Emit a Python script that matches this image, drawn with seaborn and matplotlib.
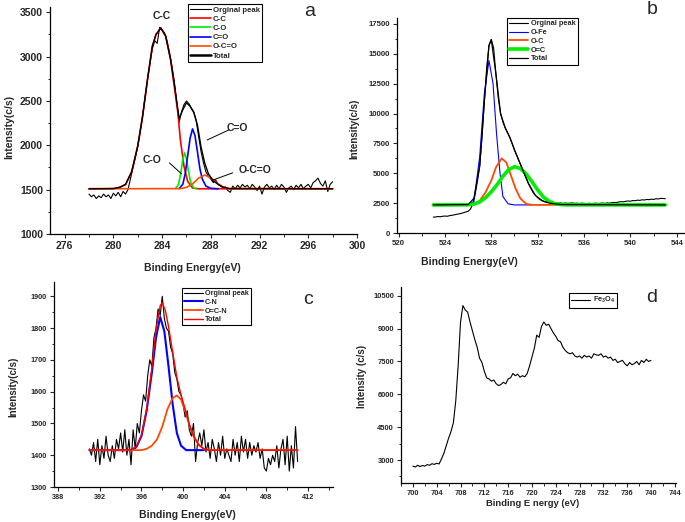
import numpy as np
import matplotlib
matplotlib.use("Agg")
import matplotlib.pyplot as plt
from matplotlib.ticker import MultipleLocator
import seaborn as sns

sns.set_style("ticks")
plt.rcParams['font.family'] = ['Liberation Sans', 'DejaVu Sans']
plt.rcParams['mathtext.fontset'] = 'custom'
plt.rcParams['mathtext.rm'] = 'Liberation Sans:bold'
plt.rcParams['mathtext.it'] = 'Liberation Sans:bold'
plt.rcParams['mathtext.bf'] = 'Liberation Sans:bold'

# ---------------- Panel a : C 1s ----------------
a_orig_start, a_orig_end = 278.0, 298.0
a_orig = [1450, 1420, 1440, 1400, 1430, 1410, 1450, 1420, 1440, 1400,
          1460, 1430, 1470, 1420, 1480, 1450, 1500, 1620, 1740, 1860,
          1990, 2150, 2330, 2540, 2740, 2920, 3090, 3180, 3150, 3330,
          3300, 3270, 3180, 3050, 2900, 2720, 2480, 2260, 2380, 2460,
          2500, 2470, 2420, 2380, 2280, 2100, 1930, 1800, 1700, 1650,
          1620, 1580, 1610, 1560, 1540, 1520, 1530, 1490, 1470, 1540,
          1510, 1550, 1520, 1560, 1530, 1550, 1510, 1560, 1530, 1490,
          1540, 1450, 1530, 1560, 1520, 1540, 1500, 1550, 1510, 1560,
          1530, 1470, 1520, 1540, 1500, 1550, 1520, 1560, 1510, 1540,
          1560, 1520, 1580, 1600, 1630, 1570, 1540, 1600, 1480, 1560, 1590]
a_cc_x = [278.0, 280.0, 280.5, 281.0, 281.5, 282.0, 282.4, 282.8, 283.2, 283.5, 283.9,
          284.3, 284.7, 285.0, 285.3, 285.5, 285.8, 286.1, 286.5, 287.0, 298.0]
a_cc_y = [1510, 1512, 1525, 1556, 1700, 1990, 2327, 2740, 3117, 3250, 3323,
          3230, 2966, 2665, 2365, 2064, 1763, 1594, 1519, 1510, 1510]
a_co_x = [285.1, 285.35, 285.55, 285.7, 285.85, 286.0, 286.15, 286.35, 286.6, 286.8]
a_co_y = [1512, 1560, 1700, 1840, 1915, 1850, 1720, 1580, 1520, 1510]
a_cdo_x = [285.4, 285.7, 285.9, 286.1, 286.3, 286.5, 286.7, 286.9, 287.1, 287.3, 287.6, 288.0, 288.6]
a_cdo_y = [1512, 1560, 1680, 1880, 2080, 2185, 2110, 1930, 1740, 1620, 1540, 1515, 1510]
a_oco_x = [278.0, 285.5, 286.0, 286.5, 287.0, 287.5, 288.0, 288.5, 289.0, 289.5, 298.0]
a_oco_y = [1510, 1512, 1525, 1565, 1630, 1665, 1635, 1575, 1530, 1513, 1510]
a_tot_x = [278.0, 280.0, 280.5, 281.0, 281.5, 282.0, 282.4, 282.8, 283.2, 283.5, 283.9,
           284.3, 284.7, 285.0, 285.4, 285.7, 286.0, 286.3, 286.6, 286.9, 287.2, 287.5,
           287.8, 288.2, 288.6, 289.0, 289.5, 298.0]
a_tot_y = [1510, 1512, 1525, 1560, 1700, 1990, 2327, 2740, 3117, 3250, 3323,
           3230, 2966, 2700, 2300, 2400, 2480, 2440, 2370, 2230, 1980, 1800,
           1680, 1600, 1560, 1530, 1512, 1510]

# ---------------- Panel b : O 1s ----------------
b_orig_start, b_orig_end = 523.0, 543.0
b_orig = [1330, 1340, 1380, 1360, 1400, 1420, 1400, 1450, 1480, 1520,
          1560, 1600, 1640, 1700, 1760, 1820, 2000, 2400, 3200, 4300,
          5600, 8000, 11000, 13800, 15700, 16200, 15500, 13300, 11300, 10000,
          9300, 8800, 8400, 8000, 7500, 6950, 6500, 6000, 5550, 5050,
          4600, 4150, 3750, 3400, 3150, 2950, 2800, 2700, 2620, 2580,
          2560, 2540, 2520, 2510, 2500, 2520, 2480, 2510, 2490, 2500,
          2520, 2480, 2500, 2470, 2500, 2480, 2460, 2490, 2470, 2480,
          2500, 2470, 2490, 2510, 2480, 2520, 2500, 2540, 2560, 2550,
          2600, 2620, 2610, 2660, 2680, 2660, 2720, 2700, 2750, 2730,
          2780, 2760, 2810, 2790, 2830, 2810, 2870, 2850, 2900, 2890, 2870]
b_ofe_x = [523.0, 526.0, 526.5, 527.0, 527.4, 527.8, 528.15, 528.45, 528.75, 529.0, 529.45, 530.0, 531.5]
b_ofe_y = [2350, 2360, 2640, 6390, 11660, 14440, 12500, 8330, 5000, 3050, 2440, 2350, 2350]
b_oc_x = [526.0, 526.5, 527.0, 527.5, 528.0, 528.4, 528.9, 529.3, 529.7, 530.1, 530.5, 531.0, 531.5, 534.0]
b_oc_y = [2350, 2400, 2700, 3400, 4400, 5500, 6250, 5900, 4800, 3700, 2900, 2450, 2350, 2350]
b_odc_x = [523.0, 526.0, 526.5, 527.0, 527.5, 528.0, 528.5, 529.0, 529.5, 530.0, 530.5,
           531.0, 531.5, 532.0, 532.5, 533.0, 533.5, 534.0, 534.5, 543.0]
b_odc_y = [2350, 2360, 2420, 2600, 2950, 3450, 4050, 4750, 5300, 5550, 5400,
           4950, 4300, 3600, 3000, 2650, 2450, 2380, 2355, 2350]
b_tot_x = [523.0, 526.0, 526.5, 527.0, 527.4, 527.8, 528.0, 528.4, 528.8, 529.2, 529.6,
           530.0, 530.6, 531.2, 531.8, 532.4, 533.0, 534.0, 543.0]
b_tot_y = [2350, 2380, 2900, 5600, 11000, 15700, 16200, 13300, 10000, 8800, 8000,
           6950, 5550, 4150, 3150, 2700, 2500, 2380, 2350]

# ---------------- Panel c : N 1s ----------------
c_orig_start, c_orig_end = 391.0, 411.0
c_orig = [1420, 1400, 1440, 1380, 1450, 1370, 1430, 1390, 1460, 1400,
          1380, 1430, 1390, 1450, 1420, 1470, 1410, 1480, 1400, 1450,
          1370, 1480, 1420, 1500, 1470, 1540, 1590, 1570, 1650, 1700,
          1680, 1770, 1800, 1860, 1840, 1900, 1830, 1800, 1790, 1740,
          1720, 1660, 1640, 1600, 1590, 1560, 1520, 1540, 1480, 1460,
          1500, 1380, 1440, 1470, 1430, 1480, 1410, 1440, 1390, 1450,
          1420, 1380, 1440, 1400, 1460, 1390, 1420, 1400, 1380, 1450,
          1400, 1440, 1380, 1460, 1410, 1450, 1390, 1440, 1400, 1430,
          1410, 1440, 1390, 1420, 1360, 1350, 1390, 1370, 1400, 1380,
          1430, 1360, 1420, 1450, 1370, 1460, 1350, 1430, 1360, 1490, 1380]
c_cn_x = [391.0, 395.0, 395.5, 396.0, 396.5, 397.0, 397.4, 397.8, 398.2, 398.6, 399.0, 399.4, 399.8, 400.3, 402.0]
c_cn_y = [1416, 1416, 1425, 1460, 1540, 1660, 1770, 1835, 1790, 1680, 1560, 1470, 1430, 1416, 1416]
c_ocn_x = [391.0, 396.0, 396.5, 397.0, 397.5, 398.0, 398.5, 399.0, 399.4, 399.8, 400.2,
           400.6, 401.0, 401.5, 402.0, 402.5, 411.0]
c_ocn_y = [1416, 1416, 1420, 1430, 1450, 1490, 1545, 1580, 1588, 1575, 1540,
           1495, 1460, 1432, 1420, 1416, 1416]
c_tot_x = [391.0, 395.0, 395.5, 396.0, 396.5, 397.0, 397.4, 397.8, 398.0, 398.3, 398.6,
           399.0, 399.4, 399.8, 400.2, 400.6, 401.0, 401.5, 402.0, 402.5, 411.0]
c_tot_y = [1416, 1417, 1426, 1462, 1545, 1675, 1795, 1870, 1880, 1855, 1805,
           1725, 1645, 1590, 1545, 1497, 1461, 1433, 1420, 1416, 1416]

# ---------------- Panel d : Fe 2p ----------------
d_orig_start, d_orig_end = 700.0, 740.0
d_orig = [2720, 2680, 2760, 2700, 2750, 2720, 2790, 2760, 2830, 2800,
          2850, 2820, 3050, 3300, 3650, 4000, 4300, 4700, 5700, 7300,
          9300, 10050, 9850, 9750, 9300, 8900, 8500, 8150, 7650, 7450,
          7050, 6750, 6700, 6600, 6650, 6480, 6400, 6450, 6550, 6480,
          6700, 6750, 6950, 6850, 6920, 6780, 6850, 6800, 6950, 7300,
          7700, 8100, 8700, 8600, 9100, 9300, 9150, 9200, 9000, 8800,
          8650, 8450, 8400, 8150, 8000, 7900, 7850, 7900, 7750, 7700,
          7750, 7650, 7780, 7700, 7750, 7650, 7850, 7800, 7780, 7850,
          7700, 7750, 7650, 7700, 7550, 7600, 7450, 7500, 7550, 7400,
          7300, 7450, 7350, 7400, 7500, 7350, 7550, 7450, 7600, 7500, 7550]

W, H = 685, 522
fig = plt.figure(figsize=(W / 100, H / 100), dpi=100)
BOLD = 'bold'


def px_axes(l, t, r, b):
    return fig.add_axes([l / W, 1 - b / H, (r - l) / W, (b - t) / H])


def style(ax, xlim, ylim, xmaj, xmin, ymaj, ymin, tsize):
    ax.set_xlim(*xlim)
    ax.set_ylim(*ylim)
    ax.xaxis.set_major_locator(MultipleLocator(xmaj))
    ax.xaxis.set_minor_locator(MultipleLocator(xmin))
    ax.yaxis.set_major_locator(MultipleLocator(ymaj))
    ax.yaxis.set_minor_locator(MultipleLocator(ymin))
    for s in ['top', 'right']:
        ax.spines[s].set_visible(False)
    for s in ['left', 'bottom']:
        ax.spines[s].set_linewidth(0.9)
        ax.spines[s].set_color('black')
    ax.tick_params(which='major', direction='out', length=3, width=0.8, labelsize=tsize, pad=2)
    ax.tick_params(which='minor', direction='out', length=1.8, width=0.7)
    for lab in ax.get_xticklabels() + ax.get_yticklabels():
        lab.set_fontweight('bold')
    ax.set_xlabel('')
    ax.set_ylabel('')


def line(ax, x, y, color, lw, label):
    sns.lineplot(x=np.asarray(x, float), y=np.asarray(y, float), ax=ax, color=color,
                 lw=lw, label=label, estimator=None, sort=False, legend=False)


def legend(ax, x, y, fs):
    handles = [l for l in ax.get_lines() if not l.get_label().startswith('_')]
    labels = [l.get_label() for l in handles]
    leg = ax.legend(handles, labels, loc='upper left', bbox_to_anchor=(x / W, 1 - y / H),
                    bbox_transform=fig.transFigure, borderaxespad=0, frameon=True,
                    fancybox=False, edgecolor='black', framealpha=1,
                    prop={'size': fs, 'weight': 'bold'}, handlelength=2.6,
                    handletextpad=0.3, labelspacing=0.22, borderpad=0.3)
    leg.get_frame().set_linewidth(0.8)
    return leg


RED = '#ff0000'
GREEN = '#00ee00'
BLUE = '#0000ff'
ORANGE = '#ff4a00'

# ---- panel a
axa = px_axes(50, 7, 357, 234)
xa = np.linspace(a_orig_start, a_orig_end, len(a_orig))
line(axa, xa, a_orig, 'black', 0.8, 'Orginal peak')
line(axa, a_cc_x, a_cc_y, RED, 1.2, 'C-C')
line(axa, a_co_x, a_co_y, GREEN, 1.2, 'C-O')
line(axa, a_cdo_x, a_cdo_y, BLUE, 1.2, 'C=O')
line(axa, a_oco_x, a_oco_y, ORANGE, 1.2, 'O-C=O')
line(axa, a_tot_x, a_tot_y, 'black', 1.0, 'Total')
style(axa, (274.8, 300.0), (1000, 3560), 4, 2, 500, 250, 7.5)
la = legend(axa, 188, 4, 5.6)
la.get_lines()[-1].set_linewidth(1.8)
axa.text(284.0, 3400, 'C-C', ha='center', va='bottom', fontsize=7.5, fontweight=BOLD)
axa.text(290.2, 2200, 'C=O', ha='center', va='center', fontsize=7.5, fontweight=BOLD)
axa.plot([287.7, 289.5], [2060, 2175], color='black', lw=0.7)
axa.text(283.2, 1836, 'C-O', ha='center', va='center', fontsize=7.5, fontweight=BOLD)
axa.plot([284.6, 285.6], [1802, 1678], color='black', lw=0.7)
axa.text(291.6, 1723, 'O-C=O', ha='center', va='center', fontsize=7.5, fontweight=BOLD)
axa.plot([288.2, 289.8], [1610, 1690], color='black', lw=0.7)

# ---- panel b
axb = px_axes(397, 18, 685, 233)
xb = np.linspace(b_orig_start, b_orig_end, len(b_orig))
line(axb, xb, b_orig, 'black', 0.8, 'Orginal peak')
line(axb, b_ofe_x, b_ofe_y, BLUE, 0.8, 'O-Fe')
line(axb, b_oc_x, b_oc_y, ORANGE, 1.3, 'O-C')
line(axb, b_odc_x, b_odc_y, GREEN, 2.6, 'O=C')
line(axb, b_tot_x, b_tot_y, 'black', 0.9, 'Total')
style(axb, (519.87, 544.7), (0, 18000), 4, 2, 2500, 1250, 5.6)
legend(axb, 507, 18, 5.3)

# ---- panel c
axc = px_axes(54, 282, 333, 487)
xc = np.linspace(c_orig_start, c_orig_end, len(c_orig))
line(axc, xc, c_orig, 'black', 0.8, 'Orginal peak')
line(axc, c_cn_x, c_cn_y, BLUE, 1.5, 'C-N')
line(axc, c_ocn_x, c_ocn_y, ORANGE, 1.3, 'O=C-N')
line(axc, c_tot_x, c_tot_y, RED, 1.0, 'Total')
style(axc, (387.6, 414.4), (1300, 1945), 4, 2, 100, 50, 5.2)
legend(axc, 182, 288, 5.2)

# ---- panel d
axd = px_axes(401, 287, 676, 483)
xd = np.linspace(d_orig_start, d_orig_end, len(d_orig))
line(axd, xd, d_orig, 'black', 0.8, 'Fe$_3$O$_4$')
style(axd, (698, 744.2), (1950, 10900), 4, 2, 1500, 750, 5.4)
legend(axd, 569, 293, 5.3)


def ftext(x, y, s, size, rot=0, weight='bold'):
    fig.text(x / W, 1 - y / H, s, ha='center', va='center', fontsize=size,
             fontweight=weight, rotation=rot)


ftext(192, 268, 'Binding Energy(eV)', 7.5)
ftext(9, 127, 'Intensity(c/s)', 7.5, 90)
ftext(469, 262, 'Binding Energy(eV)', 7.5)
ftext(354, 129, 'Intensity(c/s)', 7.0, 90)
ftext(187, 515, 'Binding Energy(eV)', 7.5)
ftext(13, 387, 'Intensity(c/s)', 7.0, 90)
ftext(533, 503, 'Binding E nergy (eV)', 6.8)
ftext(362, 376, 'Intensity (c/s)', 7.0, 90)

ftext(310, 12, 'a', 14, weight='normal')
ftext(652, 10, 'b', 14, weight='normal')
ftext(308, 300, 'c', 14, weight='normal')
ftext(652, 298, 'd', 14, weight='normal')

fig.savefig('out.png', dpi=100)
